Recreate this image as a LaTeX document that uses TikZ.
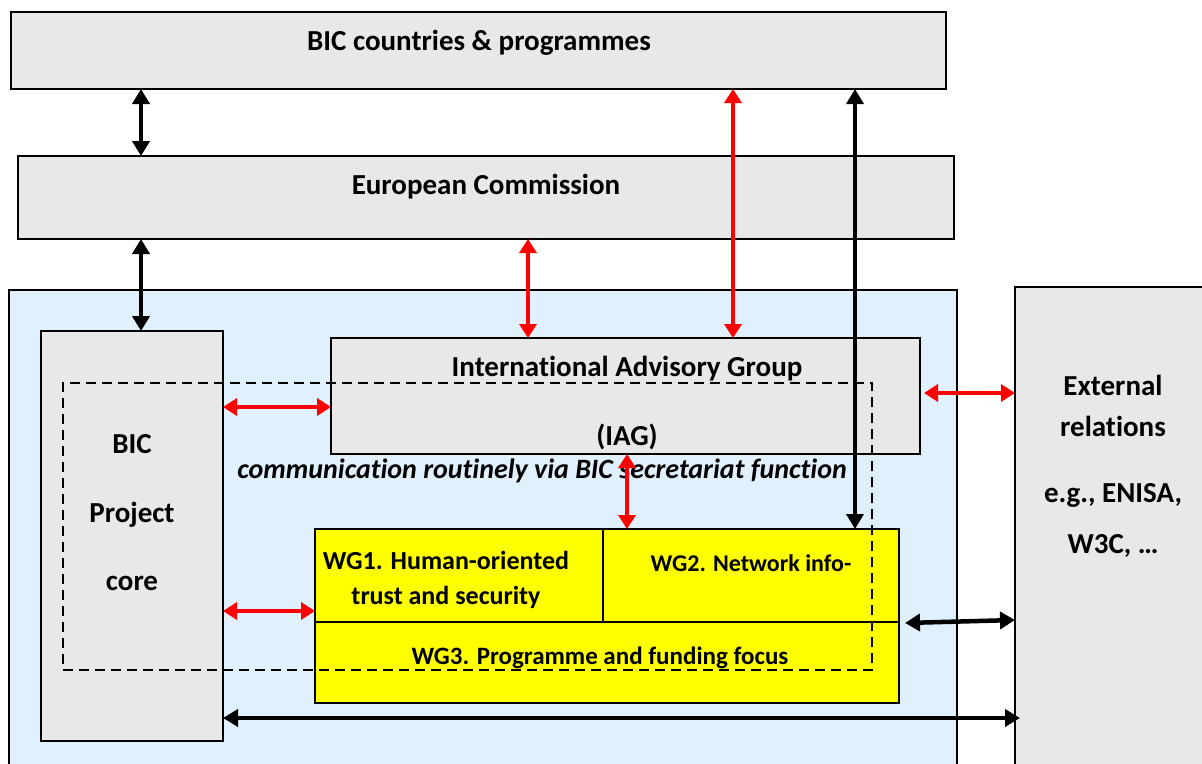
\documentclass[tikz,border=0pt]{standalone}
\usepackage{fontspec}
\setmainfont[Ligatures=NoCommon]{Carlito}
\usetikzlibrary{arrows.meta}
\definecolor{boxgrey}{HTML}{E8E8E8}
\definecolor{paleblue}{HTML}{E0F1FD}
\definecolor{wgyellow}{HTML}{FFFF00}
\definecolor{arrred}{HTML}{FF0000}
\begin{document}
\begin{tikzpicture}[x=1pt,y=-1pt,
  box/.style={draw=black, line width=2pt, fill=boxgrey, inner sep=0pt, outer sep=0pt},
  wgbox/.style={draw=black, line width=1.6pt, fill=wgyellow, inner sep=0pt, outer sep=0pt},
  lbl/.style={font=\bfseries\fontsize{29}{34}\selectfont, align=center, inner sep=0pt},
  wglbl/.style={font=\bfseries\fontsize{25}{35}\selectfont, align=center, inner sep=0pt},
  blk/.style={line width=4.5pt, draw=black, {Triangle[length=15pt,width=17pt]}-{Triangle[length=15pt,width=17pt]}},
  redarr/.style={line width=4.5pt, draw=arrred, {Triangle[length=14pt,width=17pt]}-{Triangle[length=14pt,width=17pt]}}
]
\useasboundingbox (0,0) rectangle (1202,763);
\clip (0,0) rectangle (1202,763);
\fill[white] (0,0) rectangle (1202,763);

% helper coordinates
\coordinate (x141) at (141,0);
\coordinate (x528) at (528,0);
\coordinate (x627) at (627,0);
\coordinate (x733) at (733,0);
\coordinate (x855) at (855,0);
\coordinate (y393) at (0,393);
\coordinate (y407) at (0,407);
\coordinate (y611) at (0,611);
\coordinate (y718) at (0,718);
\coordinate (y620) at (0,620);
\coordinate (y623) at (0,623);

% boxes
\node[box, minimum width=935, minimum height=77] (bic) at (478.5,50.5) {};
\node[box, minimum width=936, minimum height=83] (ec) at (486,197.5) {};
\node[box, fill=paleblue, line width=2.5pt, minimum width=948, minimum height=520] (proj) at (483,550) {};
\node[box, minimum width=182, minimum height=410] (core) at (132,536) {};
\node[box, minimum width=589, minimum height=116] (iag) at (625.5,396) {};
\node[wgbox, minimum width=288, minimum height=93] (wg1) at (459,575.5) {};
\node[wgbox, minimum width=296, minimum height=93] (wg2) at (751,575.5) {};
\node[wgbox, minimum width=584, minimum height=81] (wg3) at (607,662.5) {};
\node[box, line width=1.8pt, minimum width=225, minimum height=523] (ext) at (1127.5,548.5) {};

% texts
\node[lbl] (bictext) at (479,43) {BIC countries \& programmes};
\node[lbl] (ectext) at (486,187) {European Commission};
\node[lbl, font=\bfseries\fontsize{29}{68.5}\selectfont] (coretext) at (132,513) {BIC\\Project\\core};
\node[lbl, font=\bfseries\fontsize{29}{69}\selectfont] (iagtext) at (627,403) {International Advisory Group\\(IAG)};
\node[lbl, font=\bfseries\itshape\fontsize{28}{32}\selectfont] (commtext) at (542,471) {communication routinely via BIC secretariat function};
\node[wglbl, font=\bfseries\fontsize{26}{35}\selectfont] (wg1text) at (446,580) {WG1. Human-oriented\\trust and security};
\node[wglbl, font=\bfseries\fontsize{24}{35}\selectfont] (wg2text) at (751,563) {WG2. Network info-};
\node[wglbl] (wg3text) at (600,658) {WG3. Programme and funding focus};
\node[lbl, font=\bfseries\fontsize{29}{41}\selectfont] (exttext1) at (1113,406) {External\\relations};
\node[lbl, font=\bfseries\fontsize{29}{51}\selectfont] (exttext2) at (1113,520) {e.g., ENISA,\\W3C, …};

% dashed secretariat region
\node[draw=black, line width=2.5pt, dash pattern=on 10pt off 6pt, minimum width=809, minimum height=287, inner sep=0pt] (secr) at (467.5,526.5) {};

% connectors
\draw[blk] (bic.south -| x141) -- (ec.north -| x141);
\draw[blk] (ec.south -| x141) -- (core.north -| x141);
\draw[redarr] (ec.south -| x528) -- (iag.north -| x528);
\draw[redarr] (bic.south -| x733) -- (iag.north -| x733);
\draw[blk, line width=3.5pt] (bic.south -| x855) -- (wg2.north -| x855);
\draw[redarr] (core.east |- y407) -- (iag.west |- y407);
\draw[redarr] ([xshift=4pt]iag.east |- y393) -- (ext.west |- y393);
\draw[redarr] (iag.south -| x627) -- (wg1.north -| x627);
\draw[redarr] (core.east |- y611) -- (wg1.west |- y611);
\draw[blk] ([xshift=6pt]wg3.east |- y623) -- (ext.west |- y620);
\draw[blk] (core.east |- y718) -- ([xshift=5pt]ext.west |- y718);
\end{tikzpicture}
\end{document}
